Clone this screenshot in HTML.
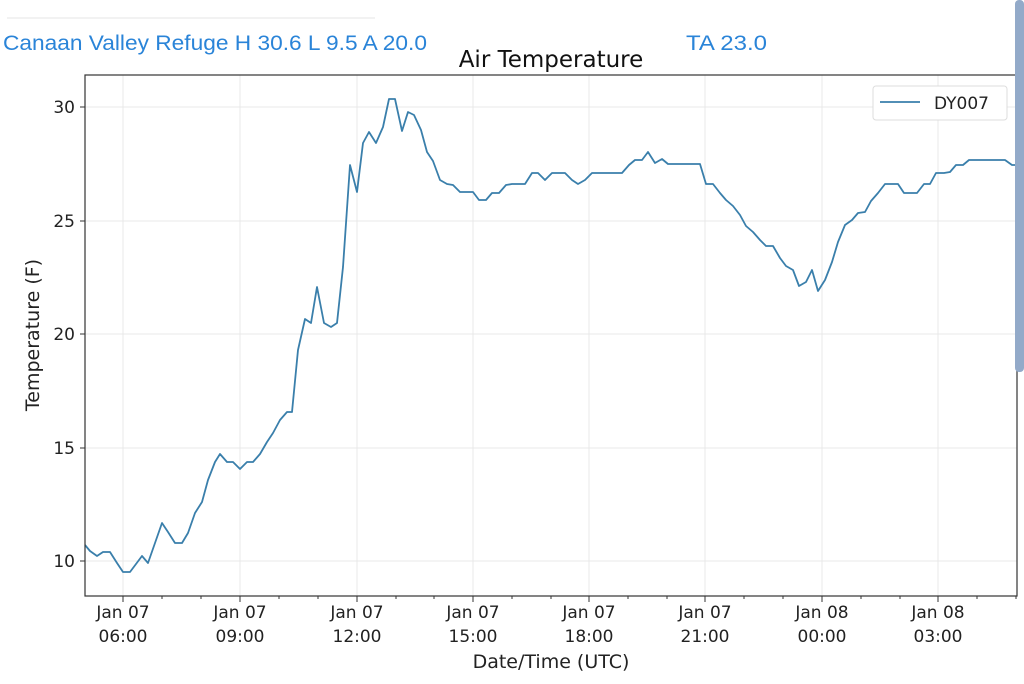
<!DOCTYPE html>
<html><head><style>
body{margin:0;width:1024px;height:680px;background:#fff;overflow:hidden;font-family:"DejaVu Sans","Liberation Sans",sans-serif;}
</style></head><body>
<svg width="1024" height="680" xmlns="http://www.w3.org/2000/svg" font-family="DejaVu Sans, Liberation Sans, sans-serif">
<line x1="7" y1="18" x2="375" y2="18" stroke="#e6e6e6" stroke-width="1"/>
<text x="3" y="50" font-size="21" fill="#2a84d8" font-family="Liberation Sans, sans-serif" textLength="424" lengthAdjust="spacingAndGlyphs">Canaan Valley Refuge H 30.6 L 9.5 A 20.0</text>
<text x="686" y="50" font-size="21" fill="#2a84d8" font-family="Liberation Sans, sans-serif" textLength="81" lengthAdjust="spacingAndGlyphs">TA 23.0</text>
<text x="551" y="67" font-size="23" text-anchor="middle" fill="#111">Air Temperature</text>
<g stroke="#e8e8e8" stroke-width="1">
<line x1="123" y1="75" x2="123" y2="596"/><line x1="240" y1="75" x2="240" y2="596"/><line x1="357" y1="75" x2="357" y2="596"/><line x1="473" y1="75" x2="473" y2="596"/><line x1="589" y1="75" x2="589" y2="596"/><line x1="705" y1="75" x2="705" y2="596"/><line x1="822" y1="75" x2="822" y2="596"/><line x1="938" y1="75" x2="938" y2="596"/>
<line x1="85" y1="107" x2="1017" y2="107"/><line x1="85" y1="221" x2="1017" y2="221"/><line x1="85" y1="334" x2="1017" y2="334"/><line x1="85" y1="448" x2="1017" y2="448"/><line x1="85" y1="561" x2="1017" y2="561"/>
</g>
<polyline fill="none" stroke="#3a7fab" stroke-width="1.8" stroke-linejoin="round" points="85,545 90,551 97,556 103,552 110,552 117,563 123,572 130,572 142,556 148,563 162,523 168,532 175,543 182,543 188,533 195,513 202,502 208,480 215,462 220,454 227,462 233,462 240,469 247,462 253,462 260,454 267,442 273,433 280,420 287,412 292,412 298,350 305,319 311,323 317,287 324,323 331,327 337,323 343,267 350,165 357,192 363,143 369,132 376,143 383,127 389,99 395,99 402,131 408,112 414,115 421,130 427,152 433,161 440,180 447,184 453,185 460,192 473,192 479,200 486,200 492,193 499,193 506,185 512,184 525,184 532,173 538,173 545,180 552,173 565,173 572,180 578,184 585,180 592,173 622,173 629,165 635,160 642,160 648,152 655,163 662,159 668,164 700,164 706,184 713,184 720,193 726,200 733,206 740,215 746,226 753,232 760,240 766,246 773,246 780,258 786,266 793,270 799,286 806,282 812,270 818,291 825,280 832,262 838,242 845,225 852,220 858,213 865,212 871,201 878,193 885,184 893,184 898,184 904,193 911,193 917,193 924,184 930,184 936,173 944,173 950,172 956,165 963,165 969,160 1005,160 1012,165 1017,165"/>
<rect x="85" y="75" width="932" height="521" fill="none" stroke="#333" stroke-width="1.2"/>
<g stroke="#333" stroke-width="1">
<line x1="80" y1="107" x2="85" y2="107"/><line x1="80" y1="221" x2="85" y2="221"/><line x1="80" y1="334" x2="85" y2="334"/><line x1="80" y1="448" x2="85" y2="448"/><line x1="80" y1="561" x2="85" y2="561"/>
<line x1="123" y1="596" x2="123" y2="602"/><line x1="240" y1="596" x2="240" y2="602"/><line x1="357" y1="596" x2="357" y2="602"/><line x1="473" y1="596" x2="473" y2="602"/><line x1="589" y1="596" x2="589" y2="602"/><line x1="705" y1="596" x2="705" y2="602"/><line x1="822" y1="596" x2="822" y2="602"/><line x1="938" y1="596" x2="938" y2="602"/>
<line x1="162" y1="596" x2="162" y2="599"/><line x1="201" y1="596" x2="201" y2="599"/><line x1="279" y1="596" x2="279" y2="599"/><line x1="318" y1="596" x2="318" y2="599"/><line x1="396" y1="596" x2="396" y2="599"/><line x1="434" y1="596" x2="434" y2="599"/><line x1="512" y1="596" x2="512" y2="599"/><line x1="551" y1="596" x2="551" y2="599"/><line x1="628" y1="596" x2="628" y2="599"/><line x1="667" y1="596" x2="667" y2="599"/><line x1="744" y1="596" x2="744" y2="599"/><line x1="783" y1="596" x2="783" y2="599"/><line x1="861" y1="596" x2="861" y2="599"/><line x1="900" y1="596" x2="900" y2="599"/><line x1="977" y1="596" x2="977" y2="599"/><line x1="1016" y1="596" x2="1016" y2="599"/>
</g>
<g font-size="17" fill="#222" text-anchor="end">
<text x="75" y="113">30</text><text x="75" y="227">25</text><text x="75" y="340">20</text><text x="75" y="454">15</text><text x="75" y="567">10</text>
</g>
<g font-size="17" fill="#222" text-anchor="middle">
<text x="123" y="618">Jan 07</text><text x="123" y="642">06:00</text>
<text x="240" y="618">Jan 07</text><text x="240" y="642">09:00</text>
<text x="357" y="618">Jan 07</text><text x="357" y="642">12:00</text>
<text x="473" y="618">Jan 07</text><text x="473" y="642">15:00</text>
<text x="589" y="618">Jan 07</text><text x="589" y="642">18:00</text>
<text x="705" y="618">Jan 07</text><text x="705" y="642">21:00</text>
<text x="822" y="618">Jan 08</text><text x="822" y="642">00:00</text>
<text x="938" y="618">Jan 08</text><text x="938" y="642">03:00</text>
<text x="551" y="668" font-size="19">Date/Time (UTC)</text>
</g>
<text transform="translate(39,335) rotate(-90)" font-size="19" text-anchor="middle" fill="#222">Temperature (F)</text>
<rect x="873" y="86" width="134" height="34" rx="3" fill="#fff" stroke="#ddd"/>
<line x1="880" y1="102" x2="920" y2="102" stroke="#3a7fab" stroke-width="1.8"/>
<text x="934" y="109" font-size="17" fill="#222">DY007</text>
<rect x="1015" y="0" width="9" height="372" rx="4" fill="#93aac9"/>
</svg>
</body></html>
